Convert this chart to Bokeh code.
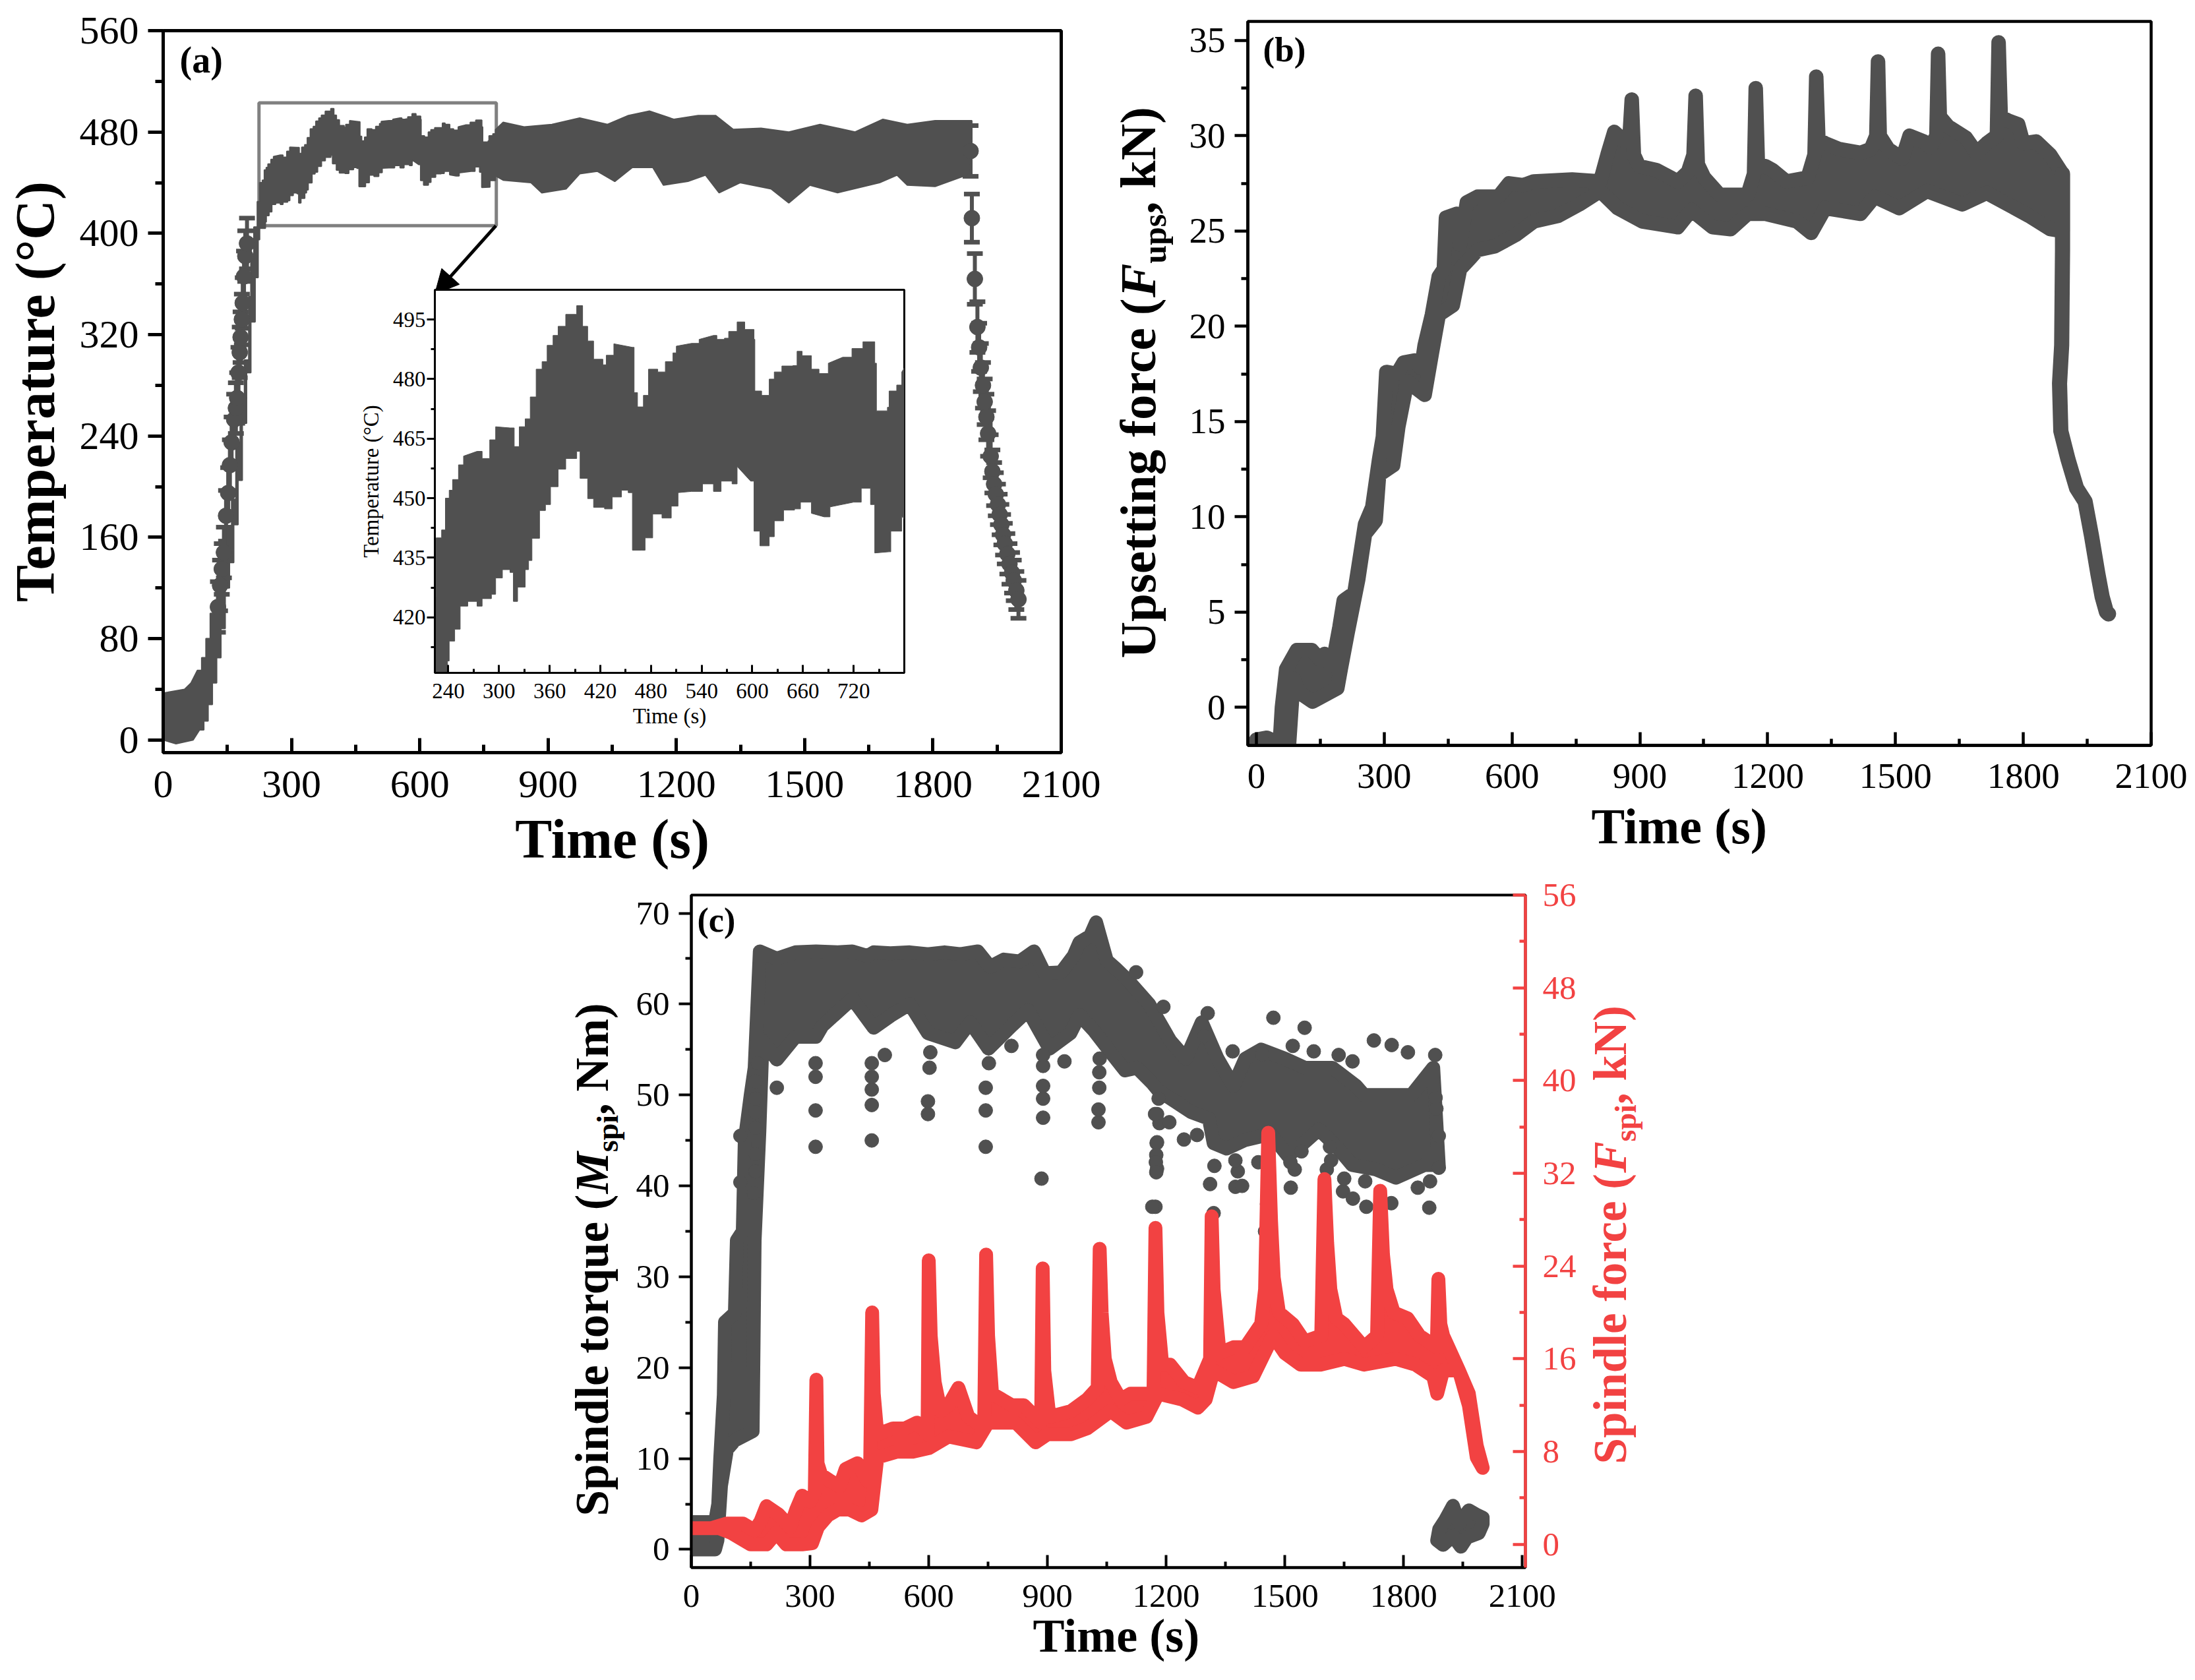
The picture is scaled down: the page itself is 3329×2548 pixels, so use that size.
from math import pi
from bokeh.plotting import figure
from bokeh.layouts import column
from bokeh.models import (Range1d, LinearAxis, FixedTicker, Label, Arrow, NormalHead,
                          Whisker, TeeHead, ColumnDataSource)
from bokeh.embed import file_html
from bokeh.resources import INLINE

# ---------------- panel (a) / inset : temperature envelope ----------------
temp_upper_t = [0, 50, 65, 80, 90, 100, 110, 120, 130, 140, 150, 160, 170, 180, 190, 200, 205, 212, 220,
                225.5, 232, 236.5, 241, 245, 252, 258, 274, 280, 289, 296, 313, 318, 324, 331, 337, 344, 351,
                357, 364, 370, 379, 392, 399, 405, 412, 423, 427, 436, 458, 460, 464, 471, 477, 488, 497,
                506, 510, 528, 537, 554, 558, 567, 572, 582, 591, 602, 603, 611, 620, 626, 635, 648, 653,
                659, 670, 679, 690, 707, 718, 731, 745, 747, 760, 762, 771, 777,
                795, 844, 909, 974, 1039, 1088, 1137, 1194, 1251, 1292, 1333, 1398, 1463, 1536, 1618, 1683,
                1740, 1805, 1878, 1891]
temp_upper = [37, 40, 45, 55, 65, 80, 100, 108, 118, 150, 168, 190, 235, 270, 300, 350, 380, 405, 425,
              440, 442, 450, 452, 454.7, 458.4, 460.6, 461.8, 460, 464.7, 468, 467.7, 463, 468, 470, 475.5,
              482.5, 484.4, 488.5, 491, 493.3, 496.3, 498.5, 493.3, 489.6, 485, 483.6, 486, 488.9, 488,
              476.6, 473, 475.9, 482.5, 481.8, 484.4, 486.6, 488.3, 489, 490, 491, 490, 490.3, 492, 494.4,
              492.5, 490, 477, 475.9, 480, 481.8, 483.3, 483.4, 487, 485.9, 482.5, 481.4, 484, 485.5,
              487.7, 489.4, 484, 472, 472.9, 477, 478.5, 481.8,
              487.6, 484, 486, 491, 486, 493, 496.5, 490, 493, 493, 482, 483, 480, 486, 480, 490,
              486, 489, 489, 478]
temp_lower_t = [0, 30, 70, 85, 95, 105, 115, 125, 135, 145, 155, 165, 175, 185, 195, 205, 215, 222,
                225.5, 232, 239, 241, 247.5, 254, 263, 274, 280, 291, 296, 304, 313, 317, 322, 331, 335, 339,
                348, 355, 361, 370, 379, 392, 396, 405, 412, 425, 434, 445, 453, 458, 469, 473, 482, 493,
                504, 512, 528, 541, 554, 563, 576, 582, 598, 602, 609, 620, 626, 637, 650, 657, 670, 685,
                692, 720, 729, 740, 745, 762, 764, 777,
                795, 860, 885, 942, 974, 1015, 1056, 1097, 1145, 1170, 1227, 1268, 1300, 1349, 1422, 1463,
                1512, 1577, 1675, 1716, 1740, 1805, 1887]
temp_lower = [0, -3, 0, 8, 15, 28, 45, 65, 88, 120, 140, 170, 205, 250, 290, 330, 365, 395,
              404, 404, 409, 414, 417, 422.8, 424, 422.8, 424.7, 425.8, 429.9, 432, 431.3, 424, 427.6, 432,
              434.3, 439.9, 446.9, 448.4, 452.9, 457.3, 460, 461.8, 455, 449.9, 447.7, 447.3, 450.3, 452,
              451.4, 436.9, 436.9, 440, 446, 445, 448, 451.4, 451.7, 453.6, 451.7, 454.3, 453.6, 458, 454.3,
              441.7, 438, 440.3, 444.3, 447, 447.3, 449, 446.2, 445.3, 447.8, 449, 452.5, 448.4, 436.2,
              436.5, 441.7, 445.4,
              442, 440, 432, 435, 447, 449, 441, 452, 452, 438, 441, 446, 432, 440, 435, 424,
              438, 432, 440, 446, 438, 437, 447]
temp_mark_t = [128, 133, 137, 142, 147, 152, 156, 160, 166, 170, 173, 176, 179, 181, 184, 186, 189, 192, 196,
               1888, 1891, 1898, 1904, 1908, 1912, 1917, 1921, 1925, 1929, 1935, 1939, 1943, 1947, 1952, 1956,
               1960, 1964, 1968, 1974, 1979, 1985, 1989, 1995, 2000]
temp_mark = [105, 122, 135, 148, 177, 195, 217, 235, 253, 262, 270, 290, 306, 318, 332, 345, 366, 382, 392,
             465, 412, 364, 326, 310, 294, 280, 267, 255, 242, 224, 212, 202, 194, 186, 178,
             170, 162, 155, 147, 139, 132, 126, 118, 111]
temp_mark_err = [20, 20, 20, 20, 20, 20, 20, 20, 20, 20, 20, 20, 20, 20, 20, 20, 20, 20, 20,
                 20, 19, 20, 20, 19, 19, 18, 18, 18, 18, 17, 17, 17, 17, 16, 16,
                 16, 16, 16, 16, 16, 16, 16, 15, 15]

# ---------------- panel (b) : upsetting force ----------------
ups_upper_t = [0, 25, 55, 60, 70, 85, 95, 130, 150, 160, 175, 185, 195, 205, 230, 255, 272, 288, 297, 305,
               330, 346, 371, 387, 395, 412, 428, 440, 445, 470, 478, 494, 519, 568, 593, 626, 651, 741, 807,
               824, 840, 865, 876, 881, 886, 898, 939, 989, 1013, 1026, 1031, 1036, 1051, 1087,
               1153, 1168, 1172, 1177, 1195, 1211, 1244, 1294, 1310, 1314, 1319, 1335, 1368, 1418,
               1442, 1455, 1459, 1463, 1483, 1516, 1533, 1566, 1582, 1596, 1600, 1604, 1623, 1665, 1690, 1714,
               1738, 1742, 1747, 1764, 1788, 1800, 1830, 1863, 1892]
ups_upper = [-1.7, -1.6, -1.9, 0, 2, 2.6, 3, 3, 2.5, 2.8, 2.2, 3, 4.2, 5.6, 6, 9.6, 10.5, 13, 14.2, 17.6,
             17.5, 18.1, 18.2, 17.8, 19, 20.6, 22.6, 23, 25.7, 25.9, 24.3, 26.5, 26.8, 26.8, 27.5, 27.4, 27.6, 27.7, 27.6,
             29, 30.2, 29.7, 30, 31.9, 29, 28.4, 28.2, 27.6, 28.1, 29, 32.1, 28.5, 27.8, 26.9,
             26.9, 28, 32.5, 28.5, 28.4, 28.2, 27.6, 27.8, 29, 33.1, 29.8, 29.6, 29.3, 29.1,
             29.3, 30, 33.9, 30, 29.3, 28.8, 30, 29.7, 29.4, 30, 34.3, 31, 30.5, 29.9, 29.1, 29.6,
             30, 34.9, 31, 30.8, 30.6, 29.6, 29.7, 29, 28]
ups_lower_t = [0, 55, 75, 87, 99, 132, 165, 190, 198, 214, 239, 255, 280, 288, 321, 333, 354, 395, 412, 428,
               461, 478, 503, 519, 560, 609, 651, 709, 758, 807, 848, 906, 989, 1021, 1071, 1113, 1153, 1195,
               1269, 1302, 1335, 1418, 1451, 1509, 1574, 1657, 1714, 1813, 1863, 1892]
ups_lower = [-2.5, -2.5, -2.5, 1.5, 0.8, 0.3, 0.7, 1, 2, 3.9, 6.7, 9.1, 9.8, 12.2, 12.7, 14.7, 17.1, 16.4, 18.6,
             20.6, 21.1, 23, 23.6, 24, 24.2, 24.8, 25.5, 25.8, 26.4, 27.1, 26.2, 25.5, 25.2, 26.1, 25.2, 25.1,
             25.9, 25.9, 25.5, 24.9, 26.2, 25.9, 26.8, 26.2, 27.1, 26.4, 27, 25.8, 25.1, 25]
ups_tail_t = [1892, 1892, 1890, 1885, 1888, 1905, 1925, 1945, 1960, 1975, 1985, 1995, 2000]
ups_tail = [28, 24, 19, 17, 14.5, 13, 11.5, 10.8, 9, 7, 5.8, 5, 4.9]

# ---------------- panel (c) : spindle torque ----------------
torque_upper_t = [0, 60, 68, 73, 82, 85, 110, 115, 130, 135, 150, 160, 173, 216, 263, 315, 370, 407, 445, 461, 503,
                  552, 598, 640, 680, 724, 755, 790, 830, 866, 893, 935, 966, 981, 1008, 1023, 1050, 1073, 1104,
                  1157, 1210, 1250, 1290, 1330, 1370, 1400, 1440, 1500, 1550, 1590, 1620, 1680, 1700, 1780, 1820,
                  1875]
torque_upper = [3, 3, 5, 10, 17, 25, 26, 34, 35, 45, 50, 53, 65.8, 65, 65.7, 65.8, 65.7, 65.8, 65.3, 65.7, 65.6,
                65.7, 65.5, 65.7, 65.5, 65.8, 64.1, 64.9, 64.7, 65.8, 63.4, 63.5, 65.3, 66.8, 67.5, 69, 64.8, 63.9,
                62.6, 60, 56, 54, 58, 54, 51, 54, 55, 54, 53, 53, 53, 51, 50, 50, 50, 53]
torque_lower_t = [0, 60, 66, 75, 90, 110, 155, 160, 172, 180, 216, 263, 315, 331, 407, 461, 503, 552, 598, 667,
                  705, 751, 809, 851, 905, 958, 981, 1019, 1065, 1096, 1126, 1165, 1180, 1264, 1308, 1320, 1353,
                  1397, 1464, 1508, 1542, 1586, 1631, 1670, 1731, 1781, 1853, 1889]
torque_lower = [0, 0, 1, 7, 11, 12, 13, 34, 46, 56, 53.9, 56.4, 56.4, 57.6, 60.6, 57.4, 58.7, 60, 56.8, 55.8,
                58, 55.1, 57.6, 59.3, 55.1, 56.8, 58.8, 57, 54.4, 52.7, 53, 51.3, 50.5, 48.1, 47.4, 44.7, 44.1,
                45, 45.7, 43.3, 44.5, 46.2, 44.3, 42.3, 41.8, 40.9, 42.3, 42.3]
torque_dot_t = [314, 314, 314, 314, 216, 168, 456, 456, 456, 456, 456, 489, 598, 598, 602, 604, 744, 744, 744, 752,
                809, 885, 889, 889, 889, 889, 889, 943, 1029, 1029, 1031, 1031, 1032, 1177, 1177, 1177, 124, 124,
                162, 162, 162, 162, 162, 162, 158, 1176, 1175, 1174, 1175, 1173, 1245, 1278, 1183, 1208, 1172,
                1181, 1322, 1311, 1375, 1392, 1381, 1375, 1433, 1515, 1525, 1514, 1542, 1606, 1614, 1617, 1647,
                1650, 1672, 1703, 1706, 1769, 1836, 1867, 1865, 1889, 1889, 1881, 1883, 1193, 1305, 1296, 1471,
                1550, 1573, 1725, 1770, 1811, 1880, 1443, 1368, 1636, 1520, 1671, 1124, 1745, 1745, 1450, 1455,
                1600, 1740, 1320, 1165]
torque_dot = [44.3, 48.3, 52, 53.5, 50.8, 53.5, 45, 48.9, 50.6, 52, 53.5, 54.4, 47.9, 49.3, 53, 54.7, 44.3, 48.3,
              50.8, 53.5, 55.4, 40.8, 47.5, 49.6, 51, 53.2, 54.4, 53.7, 47, 48.4, 50.8, 52.5, 54, 41.9, 44.8,
              47.9, 40.4, 45.5, 41.6, 43.5, 46.4, 48.1, 49.6, 51.5, 39.2, 44.7, 43.4, 42.6, 41.5, 37.7, 45.1,
              45.6, 46.9, 47, 47.9, 49.6, 42.2, 40.2, 39.9, 40, 41.6, 42.8, 42.6, 39.8, 41.8, 42.6, 43.8, 41.8,
              44.3, 42.8, 39.4, 40.8, 38.6, 40.5, 37.7, 38.1, 39.8, 40.5, 37.6, 42, 45.5, 49.7, 48.5, 59.7, 59,
              56.5, 58.5, 57.4, 54.8, 56, 55.5, 54.7, 54.4, 54.5, 54.8, 54.4, 55.4, 53.7, 63.5, 26.5, 28, 35,
              38, 34, 30, 37, 37.7]
torque_end_t = [1885, 1900, 1925, 1945, 1960, 1990, 2000, 2000, 1985, 1965, 1940, 1925, 1905, 1890]
torque_end = [1, 0.5, 1.5, 0.3, 1.3, 1.8, 2.8, 3.5, 3.8, 4.3, 2.8, 4.8, 3.2, 2.2]

# ---------------- panel (c) : spindle force ----------------
force_upper_t = [0, 50, 90, 130, 160, 175, 190, 220, 250, 265, 280, 300, 312, 316, 319, 328, 350, 375, 390, 420, 445,
                 452, 457, 461, 470, 510, 540, 570, 597, 600, 605, 615, 630, 650, 675, 700, 740, 745, 750, 760,
                 810, 840, 884, 888, 892, 905, 960, 1000, 1027, 1032, 1037, 1045, 1060, 1085, 1110, 1150, 1168,
                 1173, 1178, 1190, 1210, 1245, 1280, 1311, 1315, 1320, 1335, 1370, 1400, 1440, 1450, 1458, 1465,
                 1472, 1485, 1520, 1550, 1592, 1600, 1607, 1615, 1630, 1650, 1700, 1733, 1741, 1748, 1757, 1775,
                 1810, 1840, 1884, 1888, 1893, 1900, 1940, 1965, 1985, 2000]
force_upper = [1.4, 1.4, 1.8, 1.8, 1.2, 2, 3.3, 2.6, 1.5, 3, 4.2, 3.7, 4.5, 14.2, 7, 6, 5.5, 5, 6.5, 7, 5.5,
               7, 20, 13, 9.5, 10, 10, 10.5, 9.5, 24.5, 18, 14, 11.5, 12, 13.5, 11, 10, 25, 18, 13,
               12, 12, 10.5, 23.8, 15, 11, 11.5, 12.5, 13.5, 25.5, 20, 16, 14, 12.5, 13, 13, 13,
               27.3, 20, 15.5, 15.5, 14, 13.5, 16, 28.3, 22, 16.5, 17, 17, 19, 22, 35.5, 28,
               23, 20, 19, 17.5, 18, 31.5, 26, 22, 19.5, 19, 17, 18, 30.5, 25, 22, 20,
               19.5, 18, 17, 22.9, 19, 18, 15, 13, 8.5, 6.6]
force_lower_t = [0, 70, 100, 150, 190, 215, 240, 280, 305, 320, 345, 370, 400, 430, 455, 470, 520, 560, 600, 650,
                 720, 750, 820, 870, 900, 960, 1000, 1060, 1100, 1150, 1180, 1240, 1280, 1300, 1320, 1370, 1420,
                 1470, 1500, 1540, 1590, 1650, 1700, 1780, 1830, 1875, 1885, 1900, 1940, 1965, 1985, 2000]
force_lower = [1.4, 1.4, 1, 0, 0, 1, 0, 0, 0.1, 1.5, 2.5, 3, 3, 2.5, 3, 7.5, 8, 8, 8.3, 9.3,
               8.8, 10.5, 10.5, 8.8, 9.5, 9.5, 10, 11.5, 10.5, 11, 13, 12.5, 11.8, 12.5, 15, 14, 14.5,
               18, 16.5, 15.5, 15.5, 16, 15.5, 16, 15.5, 14.5, 13, 15, 15, 12, 7.5, 6.6]

# ---------------- tick positions and labels ----------------
time_ticks = [0, 300, 600, 900, 1200, 1500, 1800, 2100]
time_minor = [150, 450, 750, 1050, 1350, 1650, 1950]
temp_ticks = [0, 80, 160, 240, 320, 400, 480, 560]
temp_minor = [40, 120, 200, 280, 360, 440, 520]
ups_ticks = [0, 5, 10, 15, 20, 25, 30, 35]
ups_minor = [2.5, 7.5, 12.5, 17.5, 22.5, 27.5, 32.5]
torque_ticks = [0, 10, 20, 30, 40, 50, 60, 70]
torque_minor = [5, 15, 25, 35, 45, 55, 65]
force_ticks = [0, 8, 16, 24, 32, 40, 48, 56]
force_minor = [4, 12, 20, 28, 36, 44, 52]
inset_x_ticks = [240, 300, 360, 420, 480, 540, 600, 660, 720]
inset_x_minor = [270, 330, 390, 450, 510, 570, 630, 690, 750]
inset_y_ticks = [420, 435, 450, 465, 480, 495]
inset_y_minor = [412.5, 427.5, 442.5, 457.5, 472.5, 487.5]
zoom_box = [224, 779, 406, 503]
arrow_path = [778, 406, 635, 352]

FONT = "Liberation Serif"
DARK = "#505050"
RED = "#F24242"


def stairs(t, v):
    xs, ys = [t[0]], [v[0]]
    for i in range(1, len(t)):
        if t[i] - t[i - 1] <= 14:
            xs += [t[i], t[i]]
            ys += [v[i - 1], v[i]]
        else:
            xs.append(t[i])
            ys.append(v[i])
    return xs, ys


def make_fig(xr, yr, left, right, top, bottom, fw, fh, at):
    p = figure(x_range=xr, y_range=yr, frame_width=fw, frame_height=fh, output_backend="svg",
               toolbar_location=None, min_border_left=left, min_border_right=right,
               min_border_top=top, min_border_bottom=bottom, background_fill_alpha=0, border_fill_alpha=0)
    p.frame_align = False
    p.grid.visible = False
    p.outline_line_color = "black"
    p.styles = {"position": "absolute", "left": f"{at[0]}px", "top": f"{at[1]}px"}
    return p


def style_axis(ax, ticks, minor, size, lw, major, minr, inside, standoff, color="black"):
    ax.ticker = FixedTicker(ticks=ticks, minor_ticks=minor)
    ax.major_label_text_font = FONT
    ax.major_label_text_font_size = f"{size}px"
    ax.major_label_text_color = color
    ax.axis_line_color = color
    ax.axis_line_width = lw
    ax.major_tick_line_color = color
    ax.minor_tick_line_color = color
    ax.major_tick_line_width = lw
    ax.minor_tick_line_width = lw
    ax.major_tick_in = major if inside else 0
    ax.major_tick_out = 0 if inside else major
    ax.minor_tick_in = minr if inside else 0
    ax.minor_tick_out = 0 if inside else minr
    ax.major_label_standoff = standoff


def title_axis(ax, text, size, standoff, style="bold"):
    ax.axis_label = text
    ax.axis_label_text_font = FONT
    ax.axis_label_text_font_size = f"{size}px"
    ax.axis_label_text_font_style = style
    ax.axis_label_text_color = "black"
    ax.axis_label_standoff = standoff


# transparent overlay whose frame is the whole page: labels on it are in page pixels
notes = figure(x_range=Range1d(0, 1), y_range=Range1d(0, 1), frame_width=3320, frame_height=2540,
               output_backend="svg", toolbar_location=None, min_border=0, x_axis_location=None,
               y_axis_location=None, background_fill_alpha=0, border_fill_alpha=0)
notes.frame_align = False
notes.grid.visible = False
notes.outline_line_color = None
notes.styles = {"position": "absolute", "left": "0px", "top": "0px"}


def page_text(x, y, text, size, style="normal", color="black", angle=0.0):
    # the label's box sits about 0.35 em past the wanted baseline
    if angle:
        x -= 0.35 * size
    else:
        y -= 0.35 * size
    notes.add_layout(Label(x=x, y=y, x_units="canvas", y_units="canvas", text=text,
                           text_font=FONT, text_font_size=f"{size}px", text_font_style=style, text_color=color,
                           angle=angle, text_align="left", text_baseline="alphabetic"))


def vertical_rich(x, y, pieces, color="black"):
    # pieces: text, size, style, em width, baseline shift
    for text, size, style, em, shift in pieces:
        page_text(x + shift, y, text, size, style, color, pi / 2)
        y -= em * size


def temp_outline():
    ux, uy = stairs(temp_upper_t, temp_upper)
    lx, ly = stairs(temp_lower_t, temp_lower)
    return ux + lx[::-1], uy + ly[::-1]


# ================= (a) =================
pa = make_fig(Range1d(0, 2100), Range1d(-10, 560), 247, 60, 46, 190, 1362, 1095, (0, 0))
pa.outline_line_width = 5
style_axis(pa.xaxis[0], time_ticks, time_minor, 60, 5, 22, 12, True, 28)
style_axis(pa.yaxis[0], temp_ticks, temp_minor, 60, 5, 23, 12, False, 14)
title_axis(pa.xaxis[0], "Time (s)", 84, 14)
title_axis(pa.yaxis[0], "Temperature (°C)", 84, 18)
pa.quad(left=[zoom_box[0]], right=[zoom_box[1]], bottom=[zoom_box[2]], top=[zoom_box[3]], fill_alpha=0,
        line_color="#808080", line_width=5)
xs, ys = temp_outline()
pa.patch(xs, ys, fill_color=DARK, line_color=DARK, line_width=2)
src = ColumnDataSource(dict(t=temp_mark_t, v=temp_mark, lo=[a - b for a, b in zip(temp_mark, temp_mark_err)],
                            hi=[a + b for a, b in zip(temp_mark, temp_mark_err)]))
pa.add_layout(Whisker(source=src, base="t", lower="lo", upper="hi", line_color=DARK, line_width=6,
                      upper_head=TeeHead(size=24, line_color=DARK, line_width=7),
                      lower_head=TeeHead(size=24, line_color=DARK, line_width=7)))
pa.scatter("t", "v", source=src, size=24, marker="circle", fill_color=DARK, line_color=DARK)
pa.add_layout(Arrow(end=NormalHead(size=36, fill_color="black", line_color="black"), line_color="black",
                    line_width=5, x_start=arrow_path[0], y_start=arrow_path[1], x_end=arrow_path[2],
                    y_end=arrow_path[3]))
page_text(272, 110, "(a)", 56, "bold")

# ================= inset =================
pi_ = make_fig(Range1d(224, 780), Range1d(406, 502.5), 119, 20, 9, 100, 712, 581, (540, 430))
pi_.outline_line_width = 3
pi_.background_fill_color = "white"
pi_.background_fill_alpha = 1
style_axis(pi_.xaxis[0], inset_x_ticks, inset_x_minor, 33, 3, 12, 6, True, 16)
style_axis(pi_.yaxis[0], inset_y_ticks, inset_y_minor, 33, 3, 12, 6, False, 2)
title_axis(pi_.xaxis[0], "Time (s)", 33, 6, "normal")
title_axis(pi_.yaxis[0], "Temperature (°C)", 33, 12, "normal")
pi_.patch(xs, ys, fill_color=DARK, line_color=DARK, line_width=1)

# ================= (b) =================
pb = make_fig(Range1d(-20, 2100), Range1d(-2, 36), 212, 60, 32, 200, 1370, 1098, (1680, 0))
pb.outline_line_width = 4.5
style_axis(pb.xaxis[0], time_ticks, time_minor, 55, 4.5, 20, 10, True, 28)
style_axis(pb.yaxis[0], ups_ticks, ups_minor, 55, 4.5, 20, 10, False, 14)
pb.patch(ups_upper_t + ups_lower_t[::-1], ups_upper + ups_lower[::-1], fill_color=DARK, line_color=DARK,
         line_width=22, line_join="round")
pb.line(ups_tail_t, ups_tail, line_color=DARK, line_width=23, line_join="round", line_cap="round")
page_text(1915, 93, "(b)", 53, "bold")
page_text(2413, 1279, "Time (s)", 76, "bold")
vertical_rich(1752, 998, [("Upsetting force (", 77, "bold", 7.109, 0), ("F", 77, "bold italic", 0.667, 0),
                          ("ups", 50, "bold", 1.501, 16), (", kN)", 77, "bold", 2.111, 0)])

# ================= (c) =================
pc = make_fig(Range1d(0, 2108), Range1d(-2, 72), 208, 200, 60, 150, 1265, 1020, (840, 1297))
pc.outline_line_width = 4
pc.extra_y_ranges = {"force": Range1d(-2, 56)}
style_axis(pc.xaxis[0], time_ticks, time_minor, 51, 4, 19, 9, True, 26)
style_axis(pc.yaxis[0], torque_ticks, torque_minor, 51, 4, 19, 9, False, 14)
right = LinearAxis(y_range_name="force")
style_axis(right, force_ticks, force_minor, 51, 4.5, 19, 9, True, 26, color=RED)
pc.add_layout(right, "right")
pc.patch(torque_upper_t + torque_lower_t[::-1], torque_upper + torque_lower[::-1], fill_color=DARK,
         line_color=DARK, line_width=21, line_join="round")
pc.patch(torque_end_t, torque_end, fill_color=DARK, line_color=DARK, line_width=21, line_join="round")
pc.scatter(torque_dot_t, torque_dot, size=21, marker="circle", fill_color=DARK, line_color=DARK)
pc.patch(force_upper_t + force_lower_t[::-1], force_upper + force_lower[::-1], fill_color=RED, line_color=RED,
         line_width=21, line_join="round", y_range_name="force")
page_text(1057, 1413, "(c)", 52, "bold")
page_text(1566, 2506, "Time (s)", 72, "bold")
vertical_rich(922, 2299, [("Spindle torque (", 71, "bold", 6.89, 0), ("M", 71, "bold italic", 0.889, 0),
                          ("spi", 46, "bold", 1.223, 15), (", Nm)", 71, "bold", 2.388, 0)])
vertical_rich(2466, 2220, [("Spindle force (", 71, "bold", 6.222, 0), ("F", 71, "bold italic", 0.667, 0),
                           ("spi", 46, "bold", 1.223, 15), (", kN)", 71, "bold", 2.111, 0)],
              color=RED)

# ================= page =================
page = column(pa, pb, pc, pi_, notes, width=3320, height=2540)
open("out.html", "w").write(file_html(page, INLINE))
